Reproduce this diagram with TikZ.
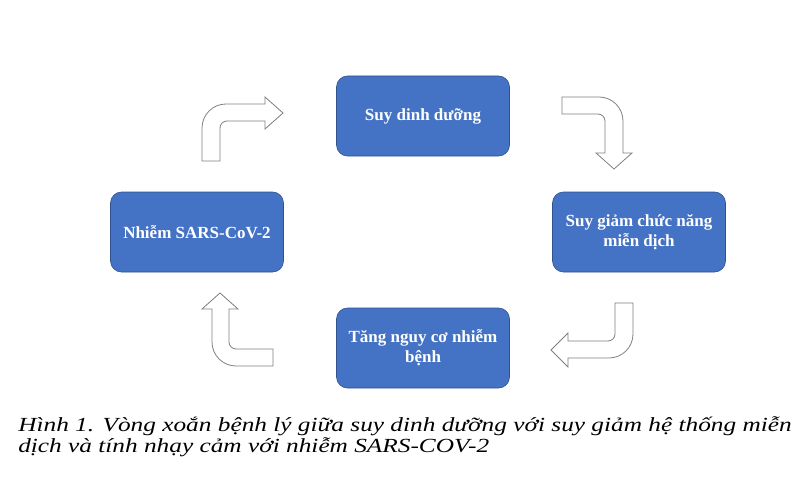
\documentclass[tikz,border=0pt]{standalone}
\usepackage{fontspec}
\setmainfont{Liberation Serif}
\usetikzlibrary{positioning}
\definecolor{boxblue}{HTML}{4472C4}
\definecolor{boxline}{HTML}{2F528F}
\begin{document}
\begin{tikzpicture}[x=1pt,y=-1pt,semithick]
  \tikzstyle{box}=[rectangle,rounded corners=11pt,fill=boxblue,draw=boxline,
                   text=white,align=center,inner sep=2pt,
                   font=\fontsize{17}{20}\selectfont\bfseries,
                   minimum width=173pt,minimum height=80pt]
  \tikzstyle{bent}=[draw=gray,fill=white,line width=0.8pt]
  \useasboundingbox (0,0) rectangle (800,500);

  \node[box] (D) at (423,116) {Suy dinh dưỡng};
  \node[box] (M) at (639,232) {Suy giảm chức năng\\miễn dịch};
  \node[box] (T) at (423,348) {Tăng nguy cơ nhiễm\\bệnh};
  \node[box] (S) at (197,232) {Nhiễm SARS-CoV-2};

  % bent arrows between the boxes
  \draw[bent] (202,161) [rounded corners=24pt] -- (202,104) [sharp corners] -- (265,104)
      -- (265,97) -- (283,113) -- (265,129) -- (265,121)
      [rounded corners=7pt] -- (220,121) [sharp corners] -- (220,161) -- cycle;
  \draw[bent] (562,97) [rounded corners=24pt] -- (623,97) [sharp corners] -- (623,153)
      -- (632,153) -- (614,169) -- (596,153) -- (605,153)
      [rounded corners=7pt] -- (605,114) [sharp corners] -- (562,114) -- cycle;
  \draw[bent] (633,303) [rounded corners=24pt] -- (633,358) [sharp corners] -- (568,358)
      -- (568,367) -- (551,350) -- (568,333) -- (568,341)
      [rounded corners=7pt] -- (615,341) [sharp corners] -- (615,303) -- cycle;
  \draw[bent] (273,366) [rounded corners=24pt] -- (212,366) [sharp corners] -- (212,309)
      -- (202,309) -- (220,293) -- (238,309) -- (229,309)
      [rounded corners=7pt] -- (229,349) [sharp corners] -- (273,349) -- cycle;

  \node[anchor=base west,inner sep=0pt,
        font=\fontsize{20}{20}\selectfont\itshape] (cap) at (18,443)
    {\scalebox{1.265}[1]{\begin{tabular}{@{}l@{}}
     Hình 1. Vòng xoắn bệnh lý giữa suy dinh dưỡng với suy giảm hệ thống miễn\\
     dịch và tính nhạy cảm với nhiễm SARS-COV-2\end{tabular}}};
\end{tikzpicture}
\end{document}
